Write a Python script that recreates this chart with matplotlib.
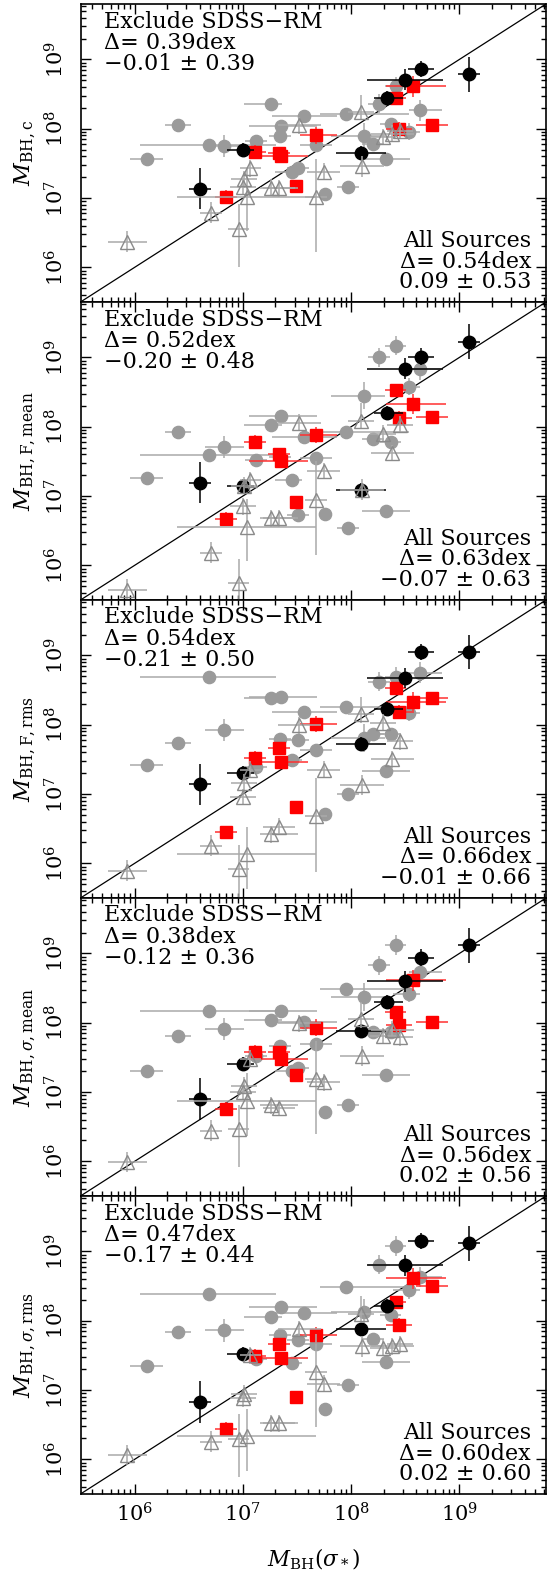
import numpy as np
import matplotlib
matplotlib.use('Agg')
import matplotlib.pyplot as plt
from matplotlib.ticker import LogLocator, LogFormatterMathtext, NullFormatter

plt.rcParams['font.family'] = ['DejaVu Serif']
plt.rcParams['mathtext.fontset'] = 'dejavuserif'

# ---------------- data (log10 solar masses) ----------------
# gray filled circles
gc_logx = [6.11, 6.40, 6.69, 6.83, 7.12, 7.26, 7.355, 7.345, 7.45, 7.51, 7.565, 7.675,
           7.76, 7.95, 7.97, 8.115, 8.20, 8.26, 8.32, 8.365, 8.41, 8.535, 8.635]
gc_xlo = [0.15, 0.12, 0.64, 0.18, 0.10, 0.25, 0.30, 0.10, 0.15, 0.10, 0.30, 0.15,
          0.05, 0.24, 0.10, 0.30, 0.10, 0.10, 0.22, 0.10, 0.10, 0.15, 0.10]
gc_xhi = [0.15, 0.12, 0.62, 0.18, 0.10, 0.10, 0.33, 0.10, 0.10, 0.10, 0.30, 0.15,
          0.05, 0.58, 0.10, 0.20, 0.10, 0.10, 0.22, 0.10, 0.10, 0.10, 0.20]
gc_yerr = [0.06, 0.06, 0.06, 0.16, 0.06, 0.06, 0.08, 0.06, 0.06, 0.06, 0.08, 0.08,
           0.05, 0.06, 0.06, 0.20, 0.06, 0.14, 0.08, 0.08, 0.14, 0.12, 0.15]
gc_y_c = [7.56, 8.05, 7.77, 7.75, 7.82, 8.35, 8.035, 7.89, 7.38, 7.43, 8.18, 7.76,
          7.065, 8.217, 7.16, 7.89, 7.776, 8.36, 7.56, 8.064, 8.61, 7.96, 8.265]
gc_y_Fmean = [7.26, 7.93, 7.59, 7.71, 7.52, 8.02, 8.15, 7.56, 7.23, 6.73, 7.85, 7.55,
              6.74, 7.92, 6.54, 8.45, 7.82, 9.00, 6.78, 7.78, 9.17, 8.58, 8.83]
gc_y_Frms = [7.42, 7.74, 8.69, 7.92, 7.39, 8.39, 8.40, 7.79, 7.49, 7.78, 8.18, 7.63,
             6.71, 8.25, 7.00, 7.81, 7.86, 8.62, 7.33, 7.86, 8.69, 8.17, 8.75]
gc_y_smean = [7.31, 7.81, 8.17, 7.91, 7.52, 8.04, 8.17, 7.67, 7.31, 7.34, 8.01, 7.70,
              6.71, 8.48, 6.82, 8.37, 7.86, 8.83, 7.24, 7.87, 9.12, 8.42, 8.73]
gc_y_srms = [7.34, 7.84, 8.39, 7.86, 7.45, 8.06, 8.20, 7.79, 7.39, 7.72, 8.11, 7.67,
             6.72, 8.48, 7.08, 8.12, 7.73, 8.81, 7.40, 8.08, 9.08, 8.44, 8.63]

# gray open triangles
tr_logx = [5.93, 6.705, 6.96, 7.04, 7.00, 7.01, 7.07, 7.26, 7.335, 7.52, 7.675, 7.746,
           8.10, 8.295, 8.38, 8.45, 8.09]
tr_xlo = [0.18, 0.10, 0.10, 0.65, 0.12, 0.12, 0.10, 0.10, 0.15, 0.20, 0.10, 0.15,
          0.20, 0.12, 0.20, 0.12, 0.12]
tr_xhi = [0.18, 0.10, 0.10, 0.64, 0.12, 0.12, 0.10, 0.25, 0.15, 0.20, 0.10, 0.15,
          0.20, 0.12, 0.20, 0.12, 0.12]
tr_ylo = [0.15, 0.15, 0.55, 0.50, 0.12, 0.12, 0.12, 0.12, 0.12, 0.12, 0.80, 0.12,
          0.15, 0.12, 0.12, 0.12, 0.12]
tr_yhi = [0.15, 0.15, 0.35, 0.40, 0.12, 0.12, 0.12, 0.12, 0.12, 0.12, 0.55, 0.12,
          0.15, 0.12, 0.12, 0.12, 0.25]
tr_y_c = [6.37, 6.79, 6.56, 7.02, 7.16, 7.27, 7.43, 7.15, 7.14, 8.05, 7.02, 7.38,
          7.46, 7.88, 7.93, 7.97, 8.24]
tr_y_Fmean = [5.65, 6.18, 5.745, 6.56, 6.85, 7.15, 7.23, 6.68, 6.68, 8.06, 6.95, 7.36,
              7.09, 7.90, 7.62, 8.03, 8.09]
tr_y_Frms = [5.895, 6.255, 5.92, 6.13, 6.96, 7.165, 7.35, 6.42, 6.53, 7.99, 6.68, 7.35,
             7.13, 8.03, 7.50, 7.76, 8.15]
tr_y_smean = [5.99, 6.445, 6.47, 6.87, 7.00, 7.09, 7.48, 6.81, 6.77, 7.99, 7.19, 7.14,
              7.52, 7.81, 7.90, 7.79, 8.05]
tr_y_srms = [6.063, 6.255, 6.30, 6.33, 6.88, 6.95, 7.50, 6.52, 6.52, 7.88, 7.26, 7.09,
             7.63, 7.61, 7.63, 7.66, 8.10]

# red squares
rs_logx = [6.845, 7.114, 7.335, 7.355, 7.49, 7.674, 8.41, 8.44, 8.576, 8.745]
rs_xlo = [0.10, 0.10, 0.10, 0.30, 0.05, 0.15, 0.10, 0.12, 0.25, 0.15]
rs_xhi = [0.10, 0.10, 0.10, 0.25, 0.05, 0.20, 0.10, 0.12, 0.30, 0.15]
rs_yerr = [0.10, 0.10, 0.06, 0.06, 0.05, 0.12, 0.08, 0.10, 0.15, 0.08]
rs_y_c = [7.017, 7.665, 7.65, 7.60, 7.176, 7.905, 8.443, 8.00, 8.611, 8.06]
rs_y_Fmean = [6.672, 7.785, 7.608, 7.512, 6.92, 7.881, 8.53, 8.12, 8.328, 8.145]
rs_y_Frms = [6.446, 7.524, 7.668, 7.462, 6.82, 8.013, 8.53, 8.185, 8.324, 8.387]
rs_y_smean = [6.758, 7.582, 7.582, 7.476, 7.25, 7.93, 8.157, 7.965, 8.61, 8.013]
rs_y_srms = [6.432, 7.49, 7.658, 7.467, 6.90, 7.788, 8.276, 7.94, 8.61, 8.497]

# black filled circles
bk_logx = [6.605, 7.00, 8.09, 8.33, 8.50, 8.648, 9.088]
bk_xlo = [0.10, 0.15, 0.23, 0.12, 0.35, 0.12, 0.10]
bk_xhi = [0.10, 0.10, 0.23, 0.15, 0.35, 0.12, 0.10]
bk_yerr = [0.30, 0.10, 0.10, 0.10, 0.15, 0.12, 0.25]
bk_y_c = [7.137, 7.70, 7.656, 8.448, 8.707, 8.86, 8.784]
bk_y_Fmean = [7.195, 7.147, 7.09, 8.203, 8.84, 9.01, 9.226]
bk_y_Frms = [7.14, 7.31, 7.716, 8.233, 8.674, 9.048, 9.048]
bk_y_smean = [6.90, 7.40, 7.88, 8.30, 8.60, 8.94, 9.115]
bk_y_srms = [6.83, 7.515, 7.874, 8.21, 8.80, 9.153, 9.115]

ylabels = [r'$M_{\rm BH,c}$', r'$M_{\rm BH,F,mean}$', r'$M_{\rm BH,F,rms}$',
           r'$M_{{\rm BH},\sigma,{\rm mean}}$', r'$M_{{\rm BH},\sigma,{\rm rms}}$']
excl_delta = ['0.39', '0.52', '0.54', '0.38', '0.47']
excl_stats = ['\u22120.01 \u00b1 0.39', '\u22120.20 \u00b1 0.48', '\u22120.21 \u00b1 0.50',
              '\u22120.12 \u00b1 0.36', '\u22120.17 \u00b1 0.44']
all_delta = ['0.54', '0.63', '0.66', '0.56', '0.60']
all_stats = ['0.09 \u00b1 0.53', '\u22120.07 \u00b1 0.63', '\u22120.01 \u00b1 0.66',
             '0.02 \u00b1 0.56', '0.02 \u00b1 0.60']

gc_ys = [gc_y_c, gc_y_Fmean, gc_y_Frms, gc_y_smean, gc_y_srms]
tr_ys = [tr_y_c, tr_y_Fmean, tr_y_Frms, tr_y_smean, tr_y_srms]
rs_ys = [rs_y_c, rs_y_Fmean, rs_y_Frms, rs_y_smean, rs_y_srms]
bk_ys = [bk_y_c, bk_y_Fmean, bk_y_Frms, bk_y_smean, bk_y_srms]

LOGMIN, LOGMAX = 5.5, 9.8


def lin(logv):
    return 10.0 ** np.asarray(logv, dtype=float)


def err(logv, lo, hi):
    lv = np.asarray(logv, dtype=float)
    v = 10.0 ** lv
    return np.vstack([v - 10.0 ** (lv - np.asarray(lo)), 10.0 ** (lv + np.asarray(hi)) - v])


W, H = 547, 1577
fig = plt.figure(figsize=(W / 100, H / 100), dpi=100)

left_px, right_px = 80.5, 546.0
top0, ph = 4.0, 298.0
aw = right_px - left_px

GRAY = '#9a9a9a'
GRAY_E = '#aaaaaa'
TRI = '#8a8a8a'

for i in range(5):
    top = top0 + ph * i
    ax = fig.add_axes([left_px / W, 1 - (top + ph) / H, aw / W, ph / H])
    ax.set_xscale('log')
    ax.set_yscale('log')
    ax.set_xlim(10 ** LOGMIN, 10 ** LOGMAX)
    ax.set_ylim(10 ** LOGMIN, 10 ** LOGMAX)

    # one-to-one line
    ax.plot([10 ** LOGMIN, 10 ** LOGMAX], [10 ** LOGMIN, 10 ** LOGMAX], color='black', lw=0.9, zorder=2)

    # gray circles
    ax.errorbar(lin(gc_logx), lin(gc_ys[i]), xerr=err(gc_logx, gc_xlo, gc_xhi),
                yerr=err(gc_ys[i], gc_yerr, gc_yerr), fmt='none', ecolor=GRAY_E,
                elinewidth=1.1, capsize=0, zorder=3)
    ax.plot(lin(gc_logx), lin(gc_ys[i]), 'o', ms=8.8, mfc=GRAY, mec=GRAY, zorder=4)

    # red squares
    ax.errorbar(lin(rs_logx), lin(rs_ys[i]), xerr=err(rs_logx, rs_xlo, rs_xhi),
                yerr=err(rs_ys[i], rs_yerr, rs_yerr), fmt='none', ecolor='#ff3030',
                elinewidth=1.1, capsize=0, zorder=5)
    ax.plot(lin(rs_logx), lin(rs_ys[i]), 's', ms=8.0, mfc='#ff0000', mec='#ff0000', zorder=6)

    # black circles
    ax.errorbar(lin(bk_logx), lin(bk_ys[i]), xerr=err(bk_logx, bk_xlo, bk_xhi),
                yerr=err(bk_ys[i], bk_yerr, bk_yerr), fmt='none', ecolor='black',
                elinewidth=1.1, capsize=0, zorder=7)
    ax.plot(lin(bk_logx), lin(bk_ys[i]), 'o', ms=9.0, mfc='black', mec='black', zorder=8)

    # open triangles
    ax.errorbar(lin(tr_logx), lin(tr_ys[i]), xerr=err(tr_logx, tr_xlo, tr_xhi),
                yerr=err(tr_ys[i], tr_ylo, tr_yhi), fmt='none', ecolor=GRAY_E,
                elinewidth=1.1, capsize=0, zorder=9)
    ax.plot(lin(tr_logx), lin(tr_ys[i]), '^', ms=10.0, mfc='none', mec=TRI, mew=1.0, zorder=10)

    # ticks
    ax.xaxis.set_major_locator(LogLocator(base=10, numticks=20))
    ax.yaxis.set_major_locator(LogLocator(base=10, numticks=20))
    ax.xaxis.set_minor_locator(LogLocator(base=10, subs=np.arange(2, 10), numticks=20))
    ax.yaxis.set_minor_locator(LogLocator(base=10, subs=np.arange(2, 10), numticks=20))
    ax.xaxis.set_minor_formatter(NullFormatter())
    ax.yaxis.set_minor_formatter(NullFormatter())
    ax.yaxis.set_major_formatter(LogFormatterMathtext())
    ax.tick_params(which='both', direction='in', top=True, right=True, width=1.0)
    ax.tick_params(which='major', length=7.5, labelsize=15, pad=9)
    ax.tick_params(which='minor', length=3.8)
    for sp in ax.spines.values():
        sp.set_linewidth(1.2)
    if i < 4:
        ax.tick_params(axis='x', labelbottom=False)
    else:
        ax.xaxis.set_major_formatter(LogFormatterMathtext())
        ax.tick_params(axis='x', pad=6)
        ax.set_xlabel(r'$M_{\rm BH}(\sigma_*)$', fontsize=15.5, va='top')
        ax.xaxis.set_label_coords(0.5, -(1547 - 1494) / ph)
    for lab in ax.get_yticklabels():
        lab.set_rotation(90)
        lab.set_va('center')

    ax.set_ylabel(ylabels[i], fontsize=16)
    ax.yaxis.set_label_coords(-(left_px - 38) / aw, 0.5)

    # annotations
    xl = (104 - left_px) / aw
    xr = (531 - left_px) / aw
    for txt, off in [('Exclude SDSS\u2212RM', 23.5),
                     ('\u0394= ' + excl_delta[i] + 'dex', 45.0),
                     (excl_stats[i], 66.0)]:
        ax.text(xl, 1 - off / ph, txt, transform=ax.transAxes, fontsize=16,
                ha='left', va='baseline', zorder=20)
    for txt, off in [('All Sources', 243.0),
                     ('\u0394= ' + all_delta[i] + 'dex', 263.5),
                     (all_stats[i], 284.0)]:
        ax.text(xr, 1 - off / ph, txt, transform=ax.transAxes, fontsize=16,
                ha='right', va='baseline', zorder=20)

fig.savefig('out.png', dpi=100)
